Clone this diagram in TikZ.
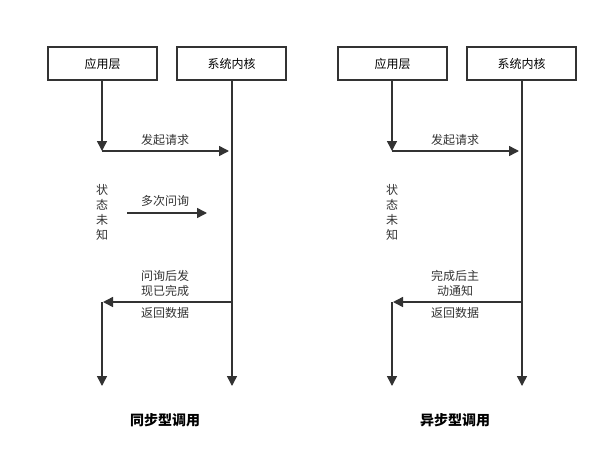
\documentclass[tikz,border=0pt]{standalone}
\usepackage{fontspec}
\setmainfont{Noto Sans CJK SC}
\usetikzlibrary{arrows.meta}
\definecolor{ln}{HTML}{333333}
\tikzset{x=1pt,y=-1pt,
 box/.style={draw=ln,line width=1.5pt,minimum width=109pt,minimum height=33pt,inner sep=0pt,font=\fontsize{12}{14}\selectfont},
 arr/.style={draw=ln,line width=1.5pt,-{Triangle[length=10pt,width=10pt]}},
 lbl/.style={font=\fontsize{12}{15}\selectfont,text=ln,inner sep=0pt,align=center},
 ttl/.style={font=\fontsize{14}{16}\selectfont\bfseries,text=black}}
\begin{document}
\begin{tikzpicture}
\useasboundingbox (0,0) rectangle (608,469);
\foreach \o/\t/\s in {0/同步型调用/L,290/异步型调用/R}{
\begin{scope}[xshift=\o pt]
\node[box] (app\s) at (102.5,63.5) {应用层};
\node[box] (ker\s) at (231.5,63.5) {系统内核};
\coordinate (a1\s) at (102,151);
\coordinate (k1\s) at (229,151);
\coordinate (a2\s) at (102,302);
\coordinate (k2\s) at (232,302);
\coordinate (ke\s) at (232,386);
\coordinate (ae\s) at (102,386);
\draw[arr] (app\s.south -| a1\s) -- (a1\s);
\draw[arr] (a1\s) -- (k1\s);
\node[lbl,anchor=south] (l1\s) at (165,146) {发起请求};
\draw[arr] (ker\s.south -| ke\s) -- (ke\s);
\draw[arr] (k2\s) -- (103,302);
\draw[arr] (a2\s) -- (ae\s);
\node[lbl,anchor=north] (l3\s) at (165,307) {返回数据};
\node[lbl] (st\s) at (102,212) {状\\态\\未\\知};
\node[ttl] (t\s) at (165,420) {\t};
\end{scope}}
\coordinate (p1) at (127,213);
\coordinate (p2) at (207,213);
\draw[arr] (p1) -- (p2);
\node[lbl,anchor=south] (pl) at (165,207) {多次问询};
\node[lbl,anchor=south] (q1) at (165,297) {问询后发\\现已完成};
\node[lbl,anchor=south] (q2) at (455,297) {完成后主\\动通知};
\end{tikzpicture}
\end{document}
